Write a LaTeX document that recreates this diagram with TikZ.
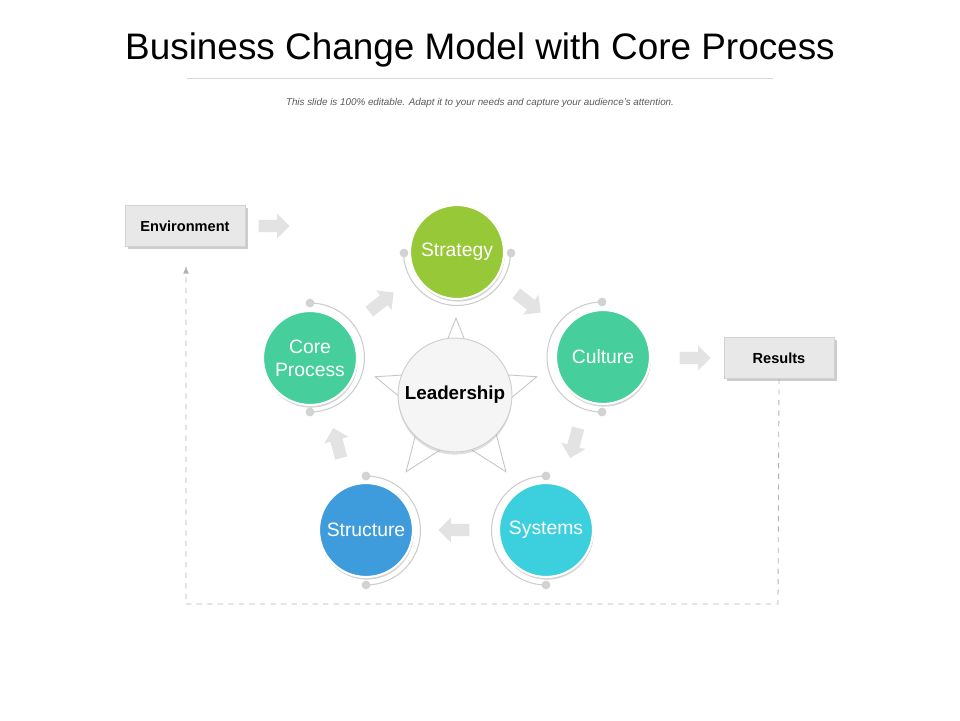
\documentclass[tikz,border=0pt]{standalone}
\usepackage{fontspec}
\setmainfont{Liberation Sans}
\usetikzlibrary{shapes.arrows,shapes.geometric,shadows}
\begin{document}
\begin{tikzpicture}[x=0.02cm,y=-0.02cm,
  circ/.style={circle,minimum size=1.88cm,inner sep=0pt,draw=white,line width=1.2pt,text=white,font=\fontsize{11}{13}\selectfont,align=center,drop shadow={shadow xshift=0.5pt,shadow yshift=-1.5pt,opacity=0.35}},
  ring/.style={draw=gray!40,line width=0.6pt},
  dot/.style={circle,fill=gray!35,inner sep=0pt,minimum size=5pt},
  barrow/.style={single arrow,fill=gray!22,draw=none,minimum height=0.62cm,minimum width=0.5cm,single arrow head extend=0.06cm,inner sep=1.5pt},
  box/.style={fill=gray!18,draw=gray!35,minimum width=#1,minimum height=0.82cm,font=\bfseries\fontsize{8.3}{10}\selectfont,drop shadow={shadow xshift=1.5pt,shadow yshift=-1.5pt,opacity=0.4}}]
\useasboundingbox (0,0) rectangle (960,720);
\node (title) at (480,50) {\fontsize{21}{25}\selectfont Business Change Model with Core Process};
\draw[gray!30,line width=0.5pt] (187,78) -- (773,78);
\node[text=gray!70!black,font=\itshape\fontsize{5.6}{7}\selectfont] (sub) at (480,103) {This slide is 100\% editable. Adapt it to your needs and capture your audience's attention.};
% dashed loop
\node[box=2.4cm] (env) at (185,226) {Environment};
\node[box=2.2cm] (res) at (779,358) {Results};
\coordinate (c1) at (778,604);
\coordinate (c2) at (186,604);
\coordinate (c3) at (186,266);
\draw[gray!60,dashed,line width=0.5pt,-latex] (res.south) -- (c1) -- (c2) -- (c3);
% star
\node[star,star points=5,star point ratio=2.3,minimum size=3.4cm,draw=gray!45,line width=0.5pt,inner sep=0pt] (star) at (456,403) {};
\node[circle,minimum size=2.28cm,inner sep=0pt,fill=gray!8,draw=gray!40,line width=0.5pt,font=\bfseries\fontsize{10.7}{13}\selectfont,drop shadow={shadow xshift=0pt,shadow yshift=-1.5pt,opacity=0.25}] (lead) at (455,395) {Leadership};
% rings (partial arcs; y axis points down, so angles run clockwise on the page)
\draw[ring] (457,252) ++(180:53.5) arc[start angle=180,end angle=0,radius=53.5];
\draw[ring] (602,357) ++(270:55) arc[start angle=270,end angle=90,radius=55];
\draw[ring] (310,357.5) ++(270:54.5) arc[start angle=270,end angle=450,radius=54.5];
\draw[ring] (546,530.5) ++(270:54.5) arc[start angle=270,end angle=90,radius=54.5];
\draw[ring] (366,530.5) ++(270:54.5) arc[start angle=270,end angle=450,radius=54.5];
\foreach \x/\y in {404/253,511/253,602/302,602/412,310/303,310/412,546/476,546/585,366/476,366/585}{
  \node[dot] at (\x,\y) {};
}
\node[circ,fill={rgb,255:red,151;green,200;blue,55}] (strat) at (457,252) {Strategy};
\node[circ,fill={rgb,255:red,70;green,207;blue,157}] (cult) at (603,357) {Culture};
\node[circ,fill={rgb,255:red,60;green,208;blue,222}] (sys) at (546,530) {Systems};
\node[circ,fill={rgb,255:red,62;green,155;blue,220}] (struc) at (366,530) {Structure};
\node[circ,fill={rgb,255:red,70;green,207;blue,157}] (core) at (310,358) {Core\\Process};
% block arrows
\node[barrow] (a1) at (271,226) {};
\node[barrow] (a2) at (692,358) {};
\node[barrow,rotate=38] (a3) at (379,304) {};
\node[barrow,rotate=-38] (a4) at (526,301) {};
\node[barrow,rotate=-105] (a5) at (575,440) {};
\node[barrow,rotate=180] (a6) at (457,530) {};
\node[barrow,rotate=105] (a7) at (338,446) {};
\end{tikzpicture}
\end{document}
